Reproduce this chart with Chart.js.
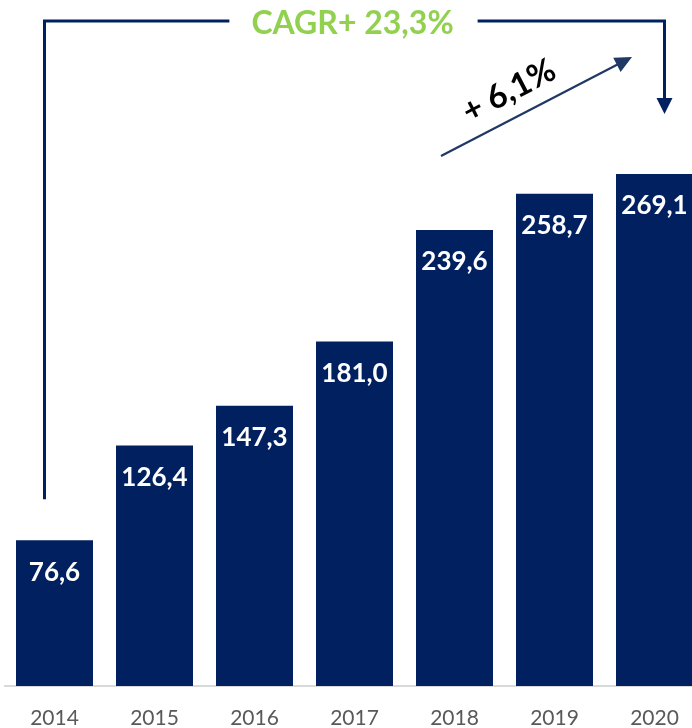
<!DOCTYPE html>
<html>
<head>
<meta charset="utf-8">
<script src="https://cdn.jsdelivr.net/npm/chart.js@4.4.1/dist/chart.umd.min.js"></script>
<style>
  html, body { margin: 0; padding: 0; background: #ffffff; overflow: hidden; }
  #wrap { position: relative; width: 706px; height: 728px; }
</style>
</head>
<body>
<div id="wrap"><canvas id="chart"></canvas></div>
<script>
// Yearly totals
const years = ['2014', '2015', '2016', '2017', '2018', '2019', '2020'];
const totals = [76.6, 126.4, 147.3, 181.0, 239.6, 258.7, 269.1];
const cagrLabel = 'CAGR+ 23,3%';
const lastGrowthLabel = '+ 6,1%';

const NAVY = '#002060';
const fmt = v => v.toFixed(1).replace('.', ',');

function arrowHead(ctx, tipX, tipY, angle, len, half) {
  ctx.save();
  ctx.translate(tipX, tipY);
  ctx.rotate(angle);
  ctx.beginPath();
  ctx.moveTo(0, 0);
  ctx.lineTo(-len, -half);
  ctx.lineTo(-len, half);
  ctx.closePath();
  ctx.fill();
  ctx.restore();
}

const annotations = {
  id: 'annotations',
  afterDatasetsDraw(chart) {
    const ctx = chart.ctx;
    const meta = chart.getDatasetMeta(0);
    const xs = chart.scales.x, ys = chart.scales.y;

    // value labels inside the bars
    ctx.save();
    ctx.fillStyle = '#ffffff';
    ctx.font = 'bold 26px Lato';
    ctx.textAlign = 'center';
    ctx.textBaseline = 'middle';
    meta.data.forEach((bar, i) => {
      ctx.fillText(fmt(totals[i]), bar.x, bar.y + 32);
    });
    ctx.restore();

    // CAGR bracket from first to last year
    const xL = xs.getPixelForValue(0) - 10;
    const xR = xs.getPixelForValue(years.length - 1) + 10;
    const yTop = 21;
    const yLeftEnd = ys.getPixelForValue(totals[0]) - 41;
    const tipY = 114;
    ctx.save();
    ctx.font = 'bold 32px Lato';
    const tw = ctx.measureText(cagrLabel).width;
    const cx = (xL + xR) / 2 - 2;
    ctx.strokeStyle = NAVY;
    ctx.fillStyle = NAVY;
    ctx.lineWidth = 3;
    ctx.beginPath();
    ctx.moveTo(xL, yLeftEnd);
    ctx.lineTo(xL, yTop);
    ctx.lineTo(cx - tw / 2 - 22, yTop);
    ctx.moveTo(cx + tw / 2 + 24, yTop);
    ctx.lineTo(xR, yTop);
    ctx.lineTo(xR, tipY - 14);
    ctx.stroke();
    arrowHead(ctx, xR, tipY, Math.PI / 2, 16, 8);
    ctx.fillStyle = '#92D050';
    ctx.textAlign = 'center';
    ctx.textBaseline = 'middle';
    ctx.fillText(cagrLabel, cx, yTop + 3);
    ctx.restore();

    // growth arrow for the last year
    const x0 = 441, y0 = 156, x1 = 632, y1 = 57;
    const ang = Math.atan2(y1 - y0, x1 - x0);
    ctx.save();
    ctx.strokeStyle = '#1F3864';
    ctx.fillStyle = '#1F3864';
    ctx.lineWidth = 2.2;
    ctx.beginPath();
    ctx.moveTo(x0, y0);
    ctx.lineTo(x1 - 12 * Math.cos(ang), y1 - 12 * Math.sin(ang));
    ctx.stroke();
    arrowHead(ctx, x1, y1, ang, 17, 8);
    ctx.restore();

    ctx.save();
    ctx.translate(509, 91);
    ctx.rotate(ang);
    ctx.fillStyle = '#000000';
    ctx.font = 'bold 33px Lato';
    ctx.textAlign = 'center';
    ctx.textBaseline = 'middle';
    ctx.fillText(lastGrowthLabel, 0, 0);
    ctx.restore();
  }
};

new Chart(document.getElementById('chart'), {
  type: 'bar',
  data: {
    labels: years,
    datasets: [{
      data: totals,
      backgroundColor: NAVY,
      borderWidth: 0,
      barPercentage: 0.77,
      categoryPercentage: 1.0
    }]
  },
  options: {
    responsive: true,
    maintainAspectRatio: false,
    animation: false,
    layout: { padding: { left: 4.5, right: 1.5, top: 0, bottom: 0 } },
    plugins: { legend: { display: false }, tooltip: { enabled: false } },
    scales: {
      x: {
        grid: { display: false, drawTicks: false },
        border: { display: true, color: '#D9D9D9', width: 2 },
        ticks: { color: '#595959', font: { family: 'Lato', size: 21 }, padding: 20 },
        afterFit(scale) { scale.height = 42; }
      },
      y: {
        display: false,
        min: 0,
        max: 360.5
      }
    }
  },
  plugins: [annotations]
});
</script>
</body>
</html>
